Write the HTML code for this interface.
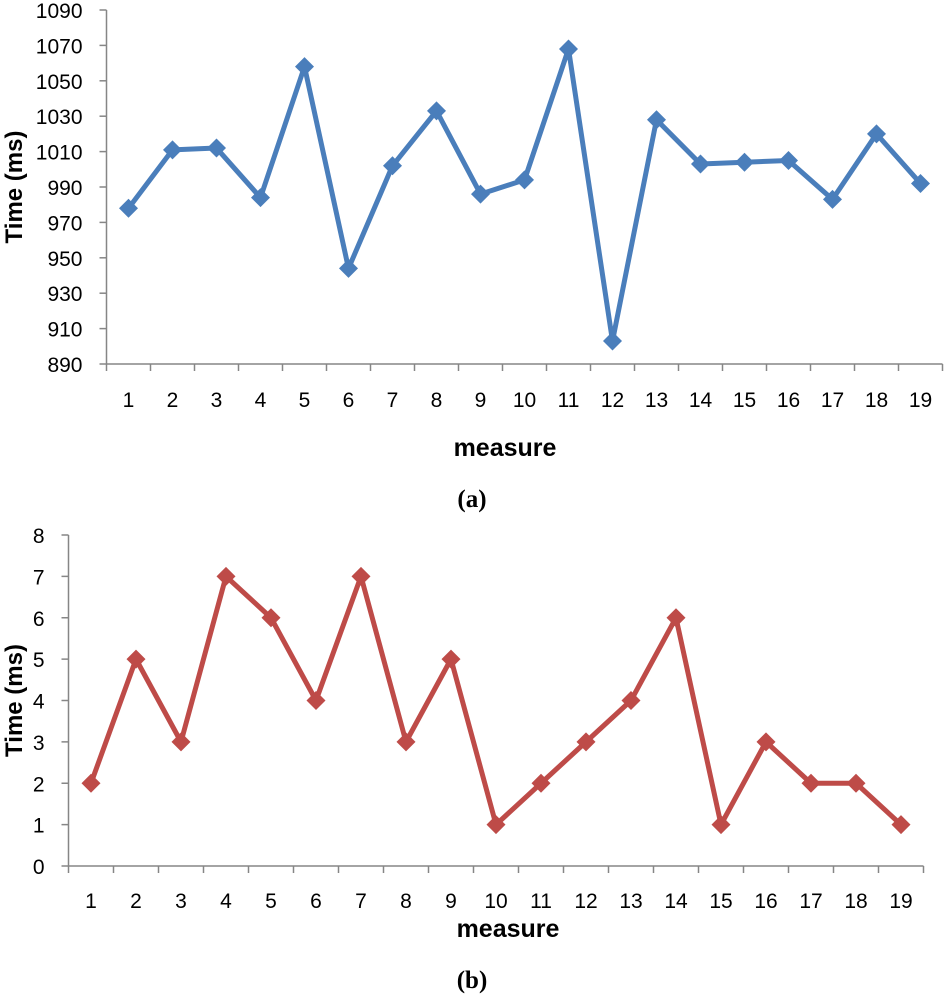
<!DOCTYPE html>
<html><head><meta charset="utf-8"><style>
body{margin:0;background:#fff;width:944px;height:1000px;overflow:hidden}
svg{display:block}
text{font-family:"Liberation Sans",sans-serif}
</style></head><body>
<svg id="s" width="944" height="1000"></svg>
<script>
const categories=[1,2,3,4,5,6,7,8,9,10,11,12,13,14,15,16,17,18,19];
const seriesA=[978,1011,1012,984,1058,944,1002,1033,986,994,1068,903,1028,1003,1004,1005,983,1020,992];
const seriesB=[2,5,3,7,6,4,7,3,5,1,2,3,4,6,1,3,2,2,1];
const ticksA=[890,910,930,950,970,990,1010,1030,1050,1070,1090];
const ticksB=[0,1,2,3,4,5,6,7,8];
const NS="http://www.w3.org/2000/svg";
const svg=document.getElementById('s');
function el(t,a,p){const e=document.createElementNS(NS,t);for(const k in a)e.setAttribute(k,a[k]);(p||svg).appendChild(e);return e;}
function chart(o){
  const g=el('g',{});
  
  
  const ymin=o.ticks[0],ymax=o.ticks[o.ticks.length-1];
  const y=v=>o.bottom-(v-ymin)/(ymax-ymin)*(o.bottom-o.top);
  const x=i=>o.left+(i+0.5)*o.step;
  const n=categories.length;
  const ax=el('path',{d:`M${o.left},${o.top}V${o.bottom}H${o.left+n*o.step}`,stroke:'#868686','stroke-width':1.5,fill:'none'},g);
  
  o.ticks.forEach(t=>{
    el('line',{x1:o.left-7,x2:o.left,y1:y(t),y2:y(t),stroke:'#868686','stroke-width':1.5},g);
    const tx=el('text',{x:o.left-24,y:y(t)+8,'text-anchor':'end','font-size':21},g);tx.textContent=t;
    
  });
  for(let i=0;i<=n;i++)el('line',{x1:o.left+i*o.step,x2:o.left+i*o.step,y1:o.bottom,y2:o.bottom+7,stroke:'#868686','stroke-width':1.5},g);
  categories.forEach((c,i)=>{const tx=el('text',{x:x(i),y:o.bottom+o.lab,'text-anchor':'middle','font-size':21},g);tx.textContent=c;
    });
  const line=el('polyline',{points:o.data.map((v,i)=>x(i)+','+y(v)).join(' '),fill:'none',stroke:o.color,'stroke-width':5,'stroke-linejoin':'round'},g);
  
  o.data.forEach((v,i)=>{const cx=x(i),cy=y(v),r=9.5;
    const m=el('path',{d:`M${cx},${cy-r}L${cx+r},${cy}L${cx},${cy+r}L${cx-r},${cy}Z`,fill:o.color},g);
    });
  const xt=el('text',{x:o.xtx,y:o.xty,'text-anchor':'middle','font-size':25,'font-weight':'bold'},g);xt.textContent='measure';
  
  const cy=(o.top+o.bottom)/2;
  const yt=el('text',{x:0,y:0,transform:`translate(22,${cy}) rotate(-90)`,'text-anchor':'middle','font-size':24,'font-weight':'bold'},g);yt.textContent='Time (ms)';
  
  const cap=el('text',{x:472,y:o.capy,'text-anchor':'middle','font-size':25,'font-weight':'bold',style:'font-family:"Liberation Serif",serif'},g);cap.textContent=o.cap;
  
}
chart({name:'chart-a',left:106.5,step:44,top:10,bottom:364,ticks:ticksA,data:seriesA,color:'#4a7ebb',lab:43,xtx:505,xty:456,capy:507,cap:'(a)'});
chart({name:'chart-b',left:68.5,step:45,top:535,bottom:866,ticks:ticksB,data:seriesB,color:'#be4b48',lab:42,xtx:508,xty:937,capy:988,cap:'(b)'});
</script>
</body></html>
